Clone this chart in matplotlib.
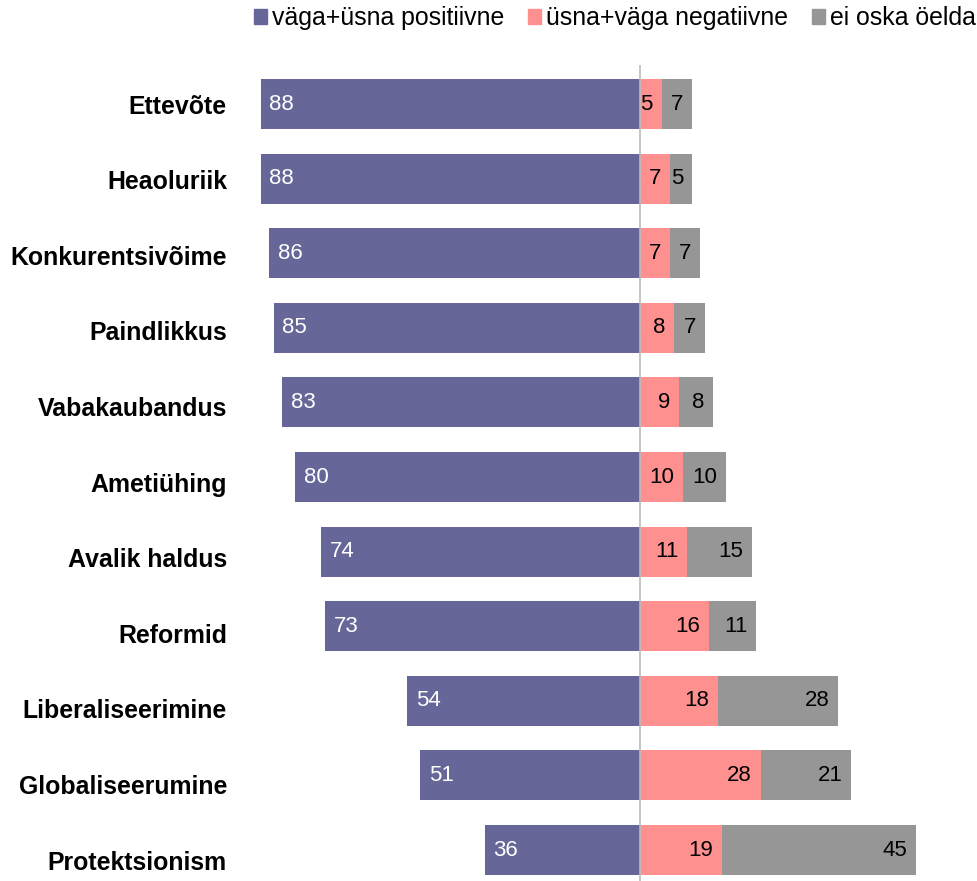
import matplotlib
matplotlib.use("Agg")
import matplotlib.pyplot as plt
from matplotlib.patches import Patch

categories = ["Ettevõte", "Heaoluriik", "Konkurentsivõime", "Paindlikkus",
              "Vabakaubandus", "Ametiühing", "Avalik haldus", "Reformid",
              "Liberaliseerimine", "Globaliseerumine", "Protektsionism"]
positive = [88, 88, 86, 85, 83, 80, 74, 73, 54, 51, 36]
negative = [5, 7, 7, 8, 9, 10, 11, 16, 18, 28, 19]
dont_know = [7, 5, 7, 7, 8, 10, 15, 11, 28, 21, 45]
legend_labels = ["väga+üsna positiivne", "üsna+väga negatiivne", "ei oska öelda"]

c_pos = "#666699"
c_neg = "#FF9090"
c_dk = "#969696"

plt.rcParams['font.family'] = ['Liberation Sans', 'DejaVu Sans']

W, H = 978, 881
fig = plt.figure(figsize=(W / 100, H / 100), dpi=100)
# axes from x=240px to right edge, y from 65px to bottom
ax = fig.add_axes([240 / W, 0, 1 - 240 / W, (H - 65) / H])

ppu = 4.31  # pixels per unit
ax.set_xlim((240 - 640) / ppu, (978 - 640) / ppu)
ax.set_ylim(10.415, -0.523)

y = list(range(len(categories)))
h = 0.67
ax.barh(y, [-v for v in positive], height=h, color=c_pos)
ax.barh(y, negative, height=h, color=c_neg)
ax.barh(y, dont_know, left=negative, height=h, color=c_dk)
ax.axvline(0, color="#BBBBBB", lw=1.2, zorder=3)

for i in y:
    ax.annotate(str(positive[i]), (-positive[i], i), xytext=(6.3, 0),
                textcoords="offset points", ha="left", va="center",
                color="white", fontsize=16)
    ax.annotate(str(negative[i]), (negative[i], i), xytext=(-6.3, 0),
                textcoords="offset points", ha="right", va="center",
                color="black", fontsize=16)
    ax.annotate(str(dont_know[i]), (negative[i] + dont_know[i], i), xytext=(-6.3, 0),
                textcoords="offset points", ha="right", va="center",
                color="black", fontsize=16)

# category labels drift slightly downward vs bars in the original
ax.set_yticks([i * 1.0134 for i in y])
ax.set_yticklabels(categories, fontsize=17.9, fontweight="bold")
ax.tick_params(axis="y", length=0, pad=9.4)
ax.set_xticks([])
for s in ax.spines.values():
    s.set_visible(False)

handles = [Patch(color=c) for c in (c_pos, c_neg, c_dk)]
fig.legend(handles, legend_labels, loc="center", bbox_to_anchor=(615 / W, 1 - 18 / H),
           ncol=3, frameon=False, fontsize=17.9, handlelength=0.53, handleheight=0.53,
           handletextpad=0.2, columnspacing=0.95, borderpad=0, borderaxespad=0)

fig.savefig("out.png", dpi=100)
